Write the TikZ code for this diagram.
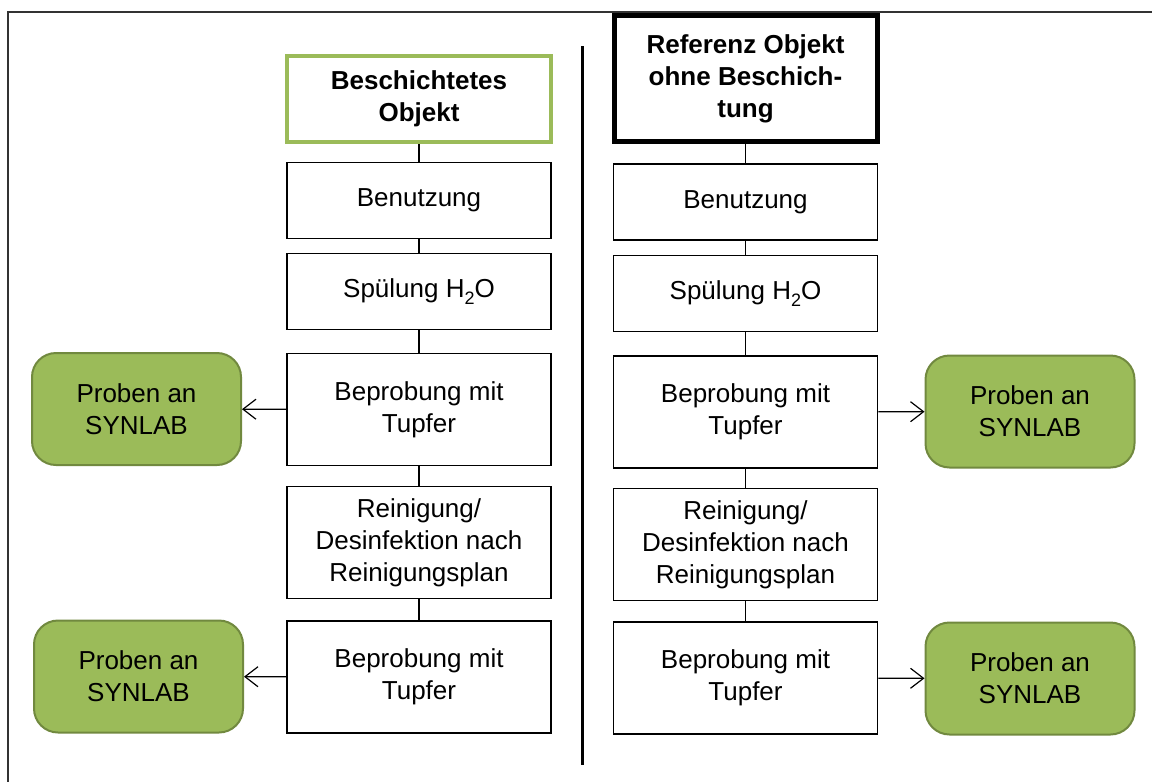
\documentclass[tikz,border=0pt]{standalone}
\usepackage{fontspec}
\setmainfont{Liberation Sans}
\usetikzlibrary{arrows.meta}
\definecolor{olive}{HTML}{9BBB59}
\definecolor{darkolive}{HTML}{71893F}
\newcommand{\boxfont}{\fontsize{13}{16}\selectfont}
\newcommand{\lowtwo}{\raisebox{-0.55ex}{\fontsize{9}{9}\selectfont 2}}

\begin{document}
\begin{tikzpicture}[x=0.5pt,y=-0.5pt,thick,
            step box/.style={draw,line width=0.8pt,minimum width=132pt,
              minimum height=38pt,inner sep=0pt,align=center,font=\boxfont},
            tall box/.style={step box,minimum height=56pt},
            sample box/.style={draw=darkolive,fill=olive,line width=1pt,
              rounded corners=12pt,minimum width=104.5pt,minimum height=56pt,
              inner sep=0pt,align=center,font=\boxfont}]

        \useasboundingbox (0,0) rectangle (1152,782);

        % Frame and separator
        \draw[black!80,line width=0.8pt] (8,782) -- (8,12) -- (1152,12);
        \draw[line width=1.5pt] (582,46) -- (582,765);

        % Left column
        \node[step box,draw=olive,line width=2pt,minimum height=43pt,
              font=\boxfont\bfseries] (titleL) at (419,99) {Beschichtetes\\Objekt};
        \node[step box] (benL) at (419,200.5) {Benutzung};
        \node[step box] (spuL) at (419,291.5) {Spülung H\lowtwo O};
        \node[tall box] (bep1L) at (419,409.5) {Beprobung mit\\Tupfer};
        \node[tall box] (reiL) at (419,542.5) {Reinigung/\\Desinfektion nach\\Reinigungsplan};
        \node[tall box] (bep2L) at (419,677) {Beprobung mit\\Tupfer};
        \node[sample box] (probL1) at (136.5,409) {Proben an\\SYNLAB};
        \node[sample box] (probL2) at (138.5,676.5) {Proben an\\SYNLAB};

        % Right column
        \node[step box,line width=2.5pt,minimum width=131.5pt,minimum height=63pt,
              font=\boxfont\bfseries] (titleR) at (745.5,78.5) {Referenz Objekt\\ohne Beschich-\\tung};
        \node[step box] (benR) at (745.5,202) {Benutzung};
        \node[step box] (spuR) at (745.5,293.5) {Spülung H\lowtwo O};
        \node[tall box] (bep1R) at (745.5,412) {Beprobung mit\\Tupfer};
        \node[tall box] (reiR) at (745.5,544.5) {Reinigung/\\Desinfektion nach\\Reinigungsplan};
        \node[tall box] (bep2R) at (745.5,678) {Beprobung mit\\Tupfer};
        \node[sample box] (probR1) at (1030,411.5) {Proben an\\SYNLAB};
        \node[sample box] (probR2) at (1030,678.5) {Proben an\\SYNLAB};

        % Draw edges
        \path[draw,line width=0.6pt]
            (titleL) edge (benL)
            (benL) edge (spuL)
            (spuL) edge (bep1L)
            (bep1L) edge (reiL)
            (reiL) edge (bep2L)
            (titleR) edge (benR)
            (benR) edge (spuR)
            (spuR) edge (bep1R)
            (bep1R) edge (reiR)
            (reiR) edge (bep2R);
        \path[-{Straight Barb[length=6.5pt,width=10pt]},line width=0.6pt]
            (bep1L) edge (probL1)
            (bep2L) edge (probL2)
            (bep1R) edge (probR1)
            (bep2R) edge (probR2);

        \end{tikzpicture}
\end{document}
